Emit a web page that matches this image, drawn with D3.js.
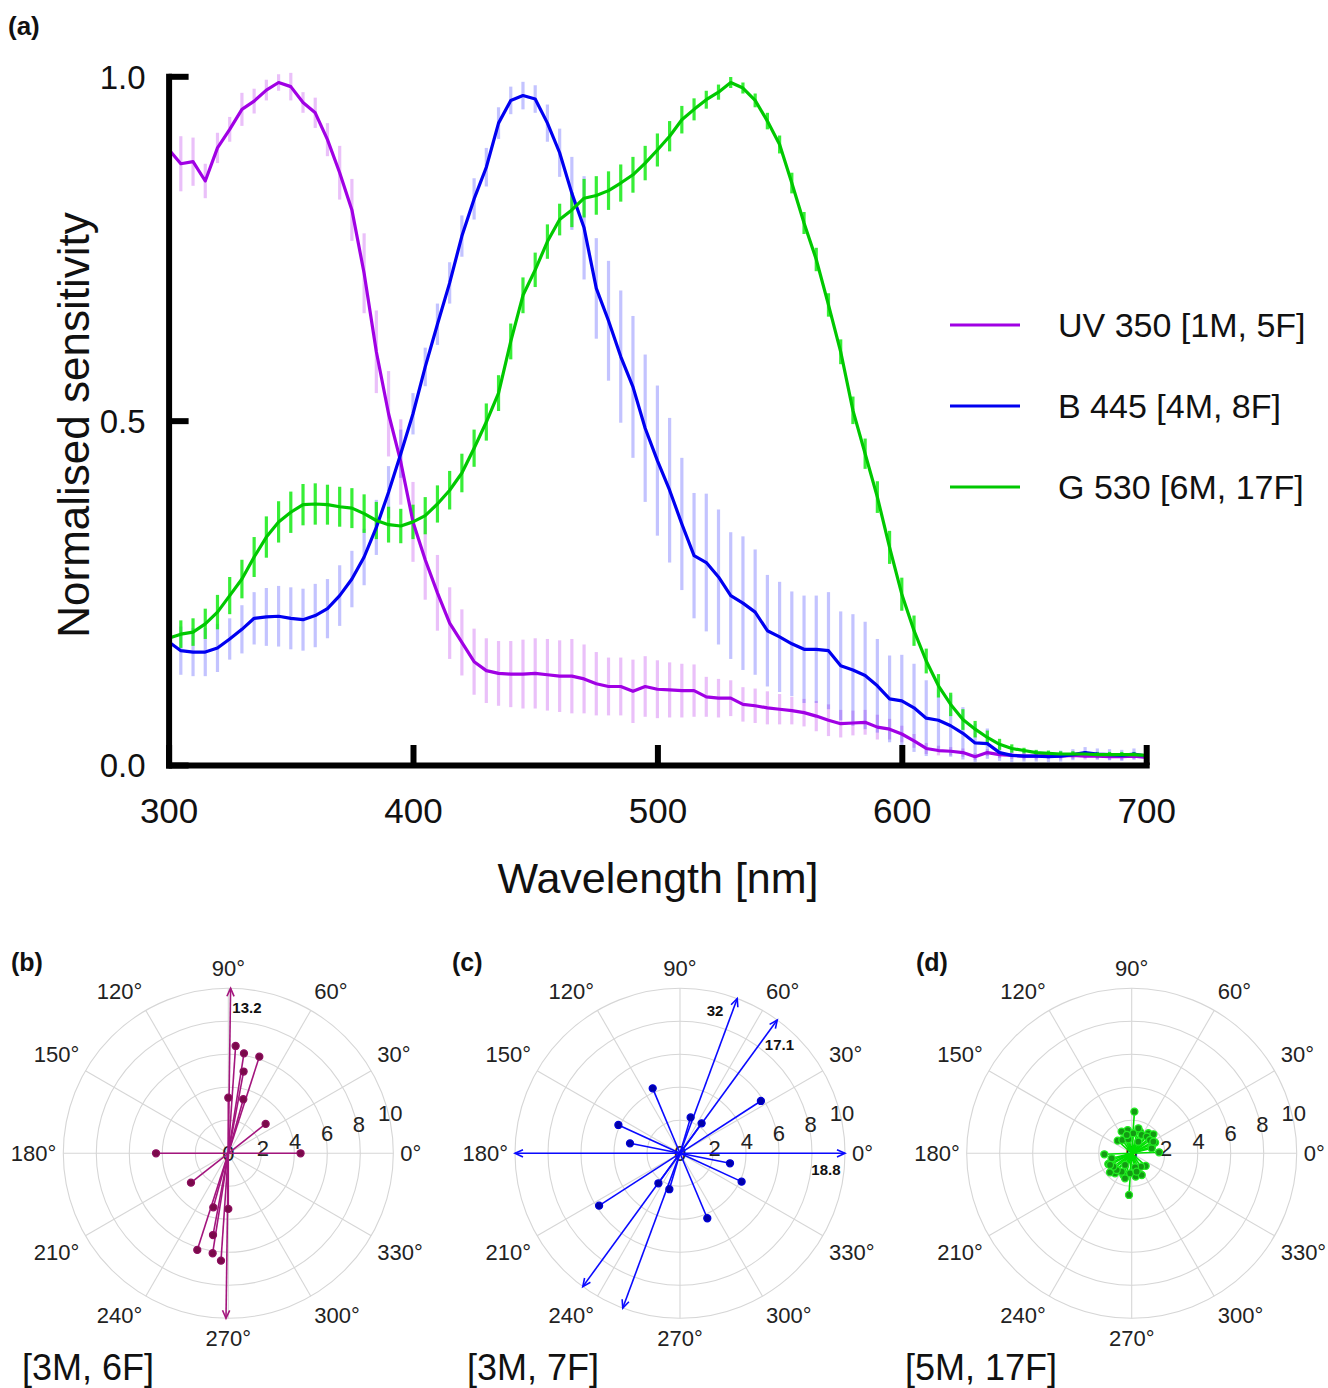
<!DOCTYPE html>
<html><head><meta charset="utf-8">
<script src="https://cdn.jsdelivr.net/npm/d3@7"></script>
<style>
body{margin:0;background:#fff;}
svg{display:block;font-family:"Liberation Sans",Arial,Helvetica,sans-serif;}
</style>
</head><body>
<svg id="chart" width="1328" height="1388"></svg>
<script>
// ---------- Panel (a) data ----------
const wavelengths = [
 300,305,310,315,320,325,330,335,340,345,
 350,355,360,365,370,375,380,385,390,395,
 400,405,410,415,420,425,430,435,440,445,
 450,455,460,465,470,475,480,485,490,495,
 500,505,510,515,520,525,530,535,540,545,
 550,555,560,565,570,575,580,585,590,595,
 600,605,610,615,620,625,630,635,640,645,
 650,655,660,665,670,675,680,685,690,695,
 700];
const uvMean = [
 0.894,0.873,0.876,0.848,0.896,0.923,0.952,0.964,0.980,0.991,
 0.985,0.962,0.947,0.908,0.860,0.806,0.714,0.600,0.510,0.440,
 0.353,0.298,0.250,0.206,0.178,0.150,0.137,0.133,0.132,0.132,
 0.133,0.131,0.129,0.129,0.125,0.118,0.114,0.114,0.107,0.114,
 0.110,0.109,0.108,0.108,0.099,0.097,0.097,0.088,0.086,0.083,
 0.081,0.079,0.076,0.071,0.065,0.060,0.061,0.062,0.055,0.052,
 0.045,0.035,0.024,0.021,0.020,0.018,0.012,0.018,0.015,0.014,
 0.013,0.013,0.014,0.013,0.014,0.013,0.013,0.012,0.012,0.013,
 0.011];
const uvSd = [
 .048,.040,.035,.025,.022,.018,.024,.018,.015,.012,
 .020,.015,.022,.024,.039,.045,.058,.060,.062,.062,
 .058,.058,.055,.052,.048,.048,.047,.047,.048,.050,
 .051,.052,.052,.054,.050,.046,.042,.042,.046,.044,
 .042,.040,.039,.038,.029,.028,.026,.025,.025,.024,
 .022,.020,.020,.022,.023,.020,.018,.018,.018,.015,
 .012,.010,.008,.007,.006,.006,.005,.005,.005,.005,
 .005,.005,.005,.005,.005,.005,.005,.005,.005,.005,
 .005];
const blueMean = [
 0.179,0.166,0.164,0.164,0.170,0.183,0.197,0.213,0.215,0.216,
 0.213,0.211,0.217,0.227,0.246,0.270,0.302,0.345,0.396,0.452,
 0.510,0.578,0.640,0.700,0.768,0.822,0.868,0.932,0.965,0.972,
 0.967,0.932,0.889,0.830,0.780,0.692,0.645,0.593,0.549,0.489,
 0.442,0.399,0.350,0.304,0.294,0.273,0.246,0.235,0.222,0.195,
 0.186,0.176,0.168,0.168,0.166,0.144,0.138,0.130,0.115,0.096,
 0.093,0.083,0.068,0.065,0.057,0.046,0.032,0.031,0.018,0.014,
 0.013,0.013,0.012,0.013,0.015,0.018,0.016,0.015,0.014,0.016,
 0.013];
const blueSd = [
 .025,.035,.035,.035,.035,.030,.035,.038,.042,.044,
 .045,.045,.046,.043,.044,.041,.041,.040,.038,.035,
 .030,.028,.030,.030,.030,.030,.028,.023,.020,.020,
 .020,.027,.035,.053,.075,.073,.087,.096,.103,.107,
 .109,.105,.096,.091,.100,.098,.092,.097,.091,.081,
 .080,.076,.078,.078,.085,.079,.081,.078,.068,.063,
 .067,.064,.055,.046,.045,.038,.028,.022,.012,.010,
 .008,.008,.008,.008,.008,.008,.008,.008,.008,.008,
 .008];
const greenMean = [
 0.184,0.190,0.193,0.205,0.222,0.246,0.270,0.302,0.331,0.353,
 0.367,0.378,0.379,0.378,0.375,0.373,0.365,0.355,0.349,0.347,
 0.353,0.362,0.379,0.399,0.424,0.460,0.498,0.540,0.615,0.682,
 0.719,0.760,0.792,0.806,0.823,0.827,0.834,0.845,0.857,0.874,
 0.893,0.913,0.937,0.952,0.966,0.977,0.991,0.983,0.965,0.935,
 0.901,0.845,0.787,0.734,0.668,0.600,0.515,0.452,0.389,0.316,
 0.248,0.195,0.151,0.115,0.088,0.066,0.052,0.040,0.030,0.024,
 0.021,0.018,0.017,0.016,0.016,0.016,0.015,0.015,0.015,0.015,
 0.014];
const greenSd = [
 .025,.020,.020,.022,.025,.027,.028,.029,.030,.030,
 .030,.030,.030,.029,.029,.029,.028,.027,.026,.025,
 .025,.027,.027,.028,.028,.027,.027,.026,.026,.026,
 .025,.025,.023,.025,.028,.028,.028,.027,.026,.025,
 .024,.022,.020,.016,.013,.011,.008,.008,.010,.012,
 .013,.015,.016,.017,.017,.018,.020,.022,.023,.024,
 .024,.022,.018,.017,.017,.015,.012,.010,.008,.006,
 .004,.004,.004,.004,.004,.004,.004,.004,.004,.004,
 .004];
const seriesNames = ["UV 350 [1M, 5F]", "B 445 [4M, 8F]", "G 530 [6M, 17F]"];
const xTicks = [300, 400, 500, 600, 700];
const yTicks = [0, 0.5, 1.0];

// ---------- Panels (b)-(d) data (axial vectors: angle in degrees, magnitude) ----------
const bAngles = [86.1, 81.1, 72.2, 79.4, 90, 74.5, 38.2, 0, 89.2];
const bMags   = [6.52, 6.13, 6.15, 5.04, 3.37, 3.40, 2.88, 4.38, 13.2];
const cAngles = [112.8, 73.5, 54.2, 32.9, 155.3, 168.7, 69.7, 53.9, 0];
const cMags   = [4.27, 2.27, 2.24, 5.84, 4.11, 3.09, 32, 17.1, 18.8];
const dAngles = [86.3, 2.1, 99.7, 114.8, 137.9, 106, 85.2, 69, 61.4, 50.2, 41.2,
                 48, 36, 24.6, 18.4, 60.3, 125, 103.4, 14, 28.3, 105, 75];
const dMags   = [2.53, 1.66, 1.43, 1.45, 1.14, 1.09, 1.22, 1.41, 1.27, 1.58, 1.75,
                 1.36, 1.37, 1.56, 1.28, 0.81, 0.99, 0.87, 1.25, 1.49, 1.15, 1.57];
const ringTicks = [0, 2, 4, 6, 8, 10];
const spokeAngles = [0, 30, 60, 90, 120, 150, 180, 210, 240, 270, 300, 330];
const polarCounts = ["[3M, 6F]", "[3M, 7F]", "[5M, 17F]"];
const panelLetters = ["(a)", "(b)", "(c)", "(d)"];

// ---------- drawing ----------
const svg = d3.select("#chart");

const x = d3.scaleLinear().domain([300, 700]).range([168.6, 1146.2]);
const y = d3.scaleLinear().domain([0, 1]).range([765, 76.3]);

const series = [
  {name: seriesNames[0], mean: uvMean, sd: uvSd, line: "#a000e4", bar: "rgba(190,60,235,0.32)"},
  {name: seriesNames[1], mean: blueMean, sd: blueSd, line: "#0000f0", bar: "rgba(40,40,255,0.28)"},
  {name: seriesNames[2], mean: greenMean, sd: greenSd, line: "#00c800", bar: "rgba(20,235,20,0.85)"}
];

const gA = svg.append("g");

// error bars
series.forEach(s => {
  gA.append("g").selectAll("line").data(wavelengths).join("line")
    .attr("x1", d => x(d)).attr("x2", d => x(d))
    .attr("y1", (d, i) => y(s.mean[i] - s.sd[i]))
    .attr("y2", (d, i) => y(s.mean[i] + s.sd[i]))
    .attr("stroke", s.bar).attr("stroke-width", 3.2);
});
// lines
const lineGen = (arr) => d3.line().x((d, i) => x(wavelengths[i])).y(d => y(d))(arr);
series.forEach(s => {
  gA.append("path").attr("d", lineGen(s.mean))
    .attr("fill", "none").attr("stroke", s.line).attr("stroke-width", 3.2)
    .attr("stroke-linejoin", "round");
});

// axes
const xAxis = d3.axisBottom(x).tickValues(xTicks).tickSizeInner(-20).tickSizeOuter(0).tickPadding(33)
  .tickFormat(d3.format("d"));
const yAxis = d3.axisLeft(y).tickValues(yTicks).tickSizeInner(-20).tickSizeOuter(0).tickPadding(23)
  .tickFormat(d3.format(".1f"));
const gx = gA.append("g").attr("transform", "translate(0,765)").call(xAxis);
const gy = gA.append("g").attr("transform", "translate(168.6,0)").call(yAxis);
[gx, gy].forEach(g => {
  g.select(".domain").attr("stroke", "#000").attr("stroke-width", 6).attr("stroke-linecap", "square");
  g.selectAll(".tick line").attr("stroke", "#000").attr("stroke-width", 6);
  g.selectAll(".tick text").attr("fill", "#111").attr("font-family", "Liberation Sans, Arial, sans-serif");
});
gx.selectAll(".tick text").attr("font-size", 35);
gy.selectAll(".tick text").attr("font-size", 33).attr("dy", "0.36em");

gA.append("text").attr("x", 658).attr("y", 893).attr("text-anchor", "middle")
  .attr("font-size", 43).attr("fill", "#111").text("Wavelength [nm]");
gA.append("text").attr("transform", "translate(89,425) rotate(-90)").attr("text-anchor", "middle")
  .attr("font-size", 44).attr("fill", "#111").text("Normalised sensitivity");

// legend
const legendY = d3.scalePoint().domain(seriesNames).range([325, 487]);
const lg = gA.append("g").selectAll("g").data(series).join("g")
  .attr("transform", d => `translate(0,${legendY(d.name)})`);
lg.append("line").attr("x1", 950).attr("x2", 1020).attr("y1", 0).attr("y2", 0)
  .attr("stroke", d => d.line).attr("stroke-width", 3.2);
lg.append("text").attr("x", 1058).attr("y", 12).attr("font-size", 34).attr("fill", "#111")
  .text(d => d.name);

// panel label (a)
svg.append("text").attr("x", 8).attr("y", 35).attr("font-size", 26).attr("font-weight", "bold")
  .attr("fill", "#111").text(panelLetters[0]);

// ---------- polar panels ----------
const polarCfg = [
  {cx: 228.3, angles: bAngles, mags: bMags, line: "#a3157d", dot: "#7a0a4a", dotStroke: "#8e0e60", labelSide: [ -1,-1,-1,-1,-1,-1,-1,-1,-1 ], letterX: 11, countX: 22},
  {cx: 680, angles: cAngles, mags: cMags, line: "#0a0aff", dot: "#0000a8", dotStroke: "#0000d8", labelSide: [ -1,-1,-1,-1,-1,-1, 1,-1,-1 ], letterX: 452, countX: 467},
  {cx: 1131.7, angles: dAngles, mags: dMags, line: "#00e000", dot: "#139a13", dotStroke: "#22ee22", labelSide: null, letterX: 916, countX: 905}
];
const cy = 1153.3;
const r = d3.scaleLinear().domain([0, 10]).range([0, 165]);
const rad = a => a * Math.PI / 180;
const px = (cx, ang, rr) => cx + rr * Math.cos(rad(ang));
const py = (ang, rr) => cy - rr * Math.sin(rad(ang));
const sgn = v => Math.abs(v) < 1e-6 ? 0 : Math.sign(v);

polarCfg.forEach((p, pi) => {
  const g = svg.append("g");
  // rings
  g.selectAll("circle.ring").data(ringTicks.filter(d => d > 0)).join("circle")
    .attr("cx", p.cx).attr("cy", cy).attr("r", d => r(d))
    .attr("fill", "none").attr("stroke", "#d6d6d6").attr("stroke-width", 1.1);
  // spokes
  g.selectAll("line.spoke").data(spokeAngles).join("line")
    .attr("x1", p.cx).attr("y1", cy)
    .attr("x2", d => px(p.cx, d, r(10))).attr("y2", d => py(d, r(10)))
    .attr("stroke", "#d6d6d6").attr("stroke-width", 1.1);
  // angle labels: text box placed just outside the outer ring
  g.selectAll("text.ang").data(spokeAngles).join("text")
    .attr("text-anchor", "middle").attr("font-size", 22).attr("fill", "#222")
    .text(d => d + "°")
    .each(function(d) {
      const w = this.getComputedTextLength();
      const c = Math.cos(rad(d)), s = Math.sin(rad(d));
      const R = 172;
      const xx = p.cx + R * c + sgn(c) * w / 2;
      const yy = cy - R * s - sgn(s) * 13;
      d3.select(this).attr("x", xx).attr("y", yy + 8);
    });
  // ring labels
  const ringAng = d => 8 + 0.6 * d;
  g.selectAll("text.rl").data(ringTicks).join("text")
    .attr("x", d => px(p.cx, ringAng(d), r(d) + (d ? 2 : 0)))
    .attr("y", d => py(ringAng(d), r(d) + (d ? 2 : 0)) + 8)
    .attr("text-anchor", "middle").attr("font-size", 22).attr("fill", "#222")
    .text(d => d);

  // vectors (axial: drawn in both directions)
  const vec = [];
  p.angles.forEach((a, i) => {
    const m = p.mags[i];
    [a, a + 180].forEach((aa, k) => vec.push({ang: aa, mag: m, arrow: m > 10, primary: k === 0, i}));
  });
  g.selectAll("line.vec").data(vec).join("line")
    .attr("x1", p.cx).attr("y1", cy)
    .attr("x2", d => px(p.cx, d.ang, r(Math.min(d.mag, 10))))
    .attr("y2", d => py(d.ang, r(Math.min(d.mag, 10))))
    .attr("stroke", p.line).attr("stroke-width", 1.6);
  // arrowheads
  g.selectAll("path.head").data(vec.filter(d => d.arrow)).join("path")
    .attr("d", d => {
      const tx = px(p.cx, d.ang, r(10)), ty = py(d.ang, r(10));
      const ux = Math.cos(rad(d.ang)), uy = -Math.sin(rad(d.ang));
      const nx = -uy, ny = ux;
      const L = 8, W = 3.6;
      return `M${tx - L * ux + W * nx},${ty - L * uy + W * ny}L${tx},${ty}L${tx - L * ux - W * nx},${ty - L * uy - W * ny}`;
    })
    .attr("fill", "none").attr("stroke", p.line).attr("stroke-width", 1.6);
  // arrow magnitude labels
  g.selectAll("text.mag").data(vec.filter(d => d.arrow && d.primary)).join("text")
    .attr("x", d => px(p.cx, d.ang + 6.5 * (p.labelSide ? p.labelSide[d.i] : -1), r(8.9)))
    .attr("y", d => py(d.ang + 6.5 * (p.labelSide ? p.labelSide[d.i] : -1), r(8.9)) + 5)
    .attr("text-anchor", "middle").attr("font-size", 15).attr("font-weight", "bold").attr("fill", "#111")
    .text(d => d.mag);
  // dots
  g.selectAll("circle.dot").data(vec.filter(d => !d.arrow)).join("circle")
    .attr("cx", d => px(p.cx, d.ang, r(d.mag))).attr("cy", d => py(d.ang, r(d.mag)))
    .attr("r", 3.5).attr("fill", p.dot).attr("stroke", p.dotStroke).attr("stroke-width", 1.3);

  // panel letter and counts
  svg.append("text").attr("x", p.letterX).attr("y", 971).attr("font-size", 25).attr("font-weight", "bold")
    .attr("fill", "#111").text(panelLetters[pi + 1]);
  svg.append("text").attr("x", p.countX).attr("y", 1380).attr("font-size", 36).attr("fill", "#111")
    .text(polarCounts[pi]);
});
</script>
</body></html>
